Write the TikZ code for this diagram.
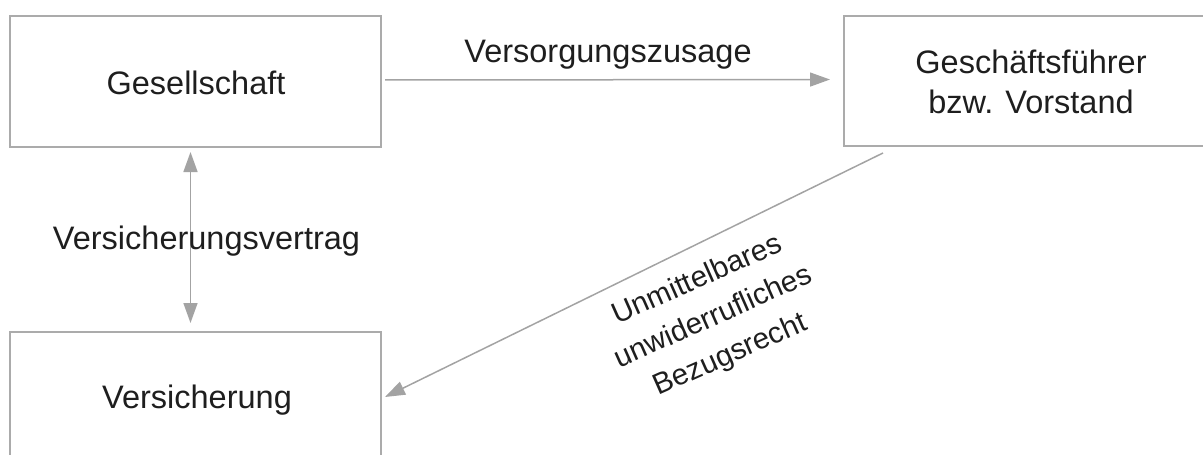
\documentclass[tikz,border=0pt]{standalone}
\usepackage{fontspec}
\setmainfont{Liberation Sans}
\usetikzlibrary{arrows.meta}
\definecolor{boxgray}{HTML}{ABABAB}
\definecolor{arrgray}{HTML}{A3A3A3}
\definecolor{txt}{HTML}{1E1E1E}
\begin{document}
\begin{tikzpicture}[x=1pt,y=-1pt,
  box/.style={draw=boxgray, line width=1.5pt, minimum width=371pt, inner sep=0pt, outer sep=0pt},
  lbl/.style={anchor=base, text=txt, inner sep=0pt, font=\fontsize{32.5}{40}\selectfont},
  arr/.style={draw=arrgray, line width=1.5pt, -{Triangle[length=20pt,width=14pt]}},
  darr/.style={draw=arrgray, line width=1.5pt, {Triangle[length=20pt,width=14pt]}-{Triangle[length=20pt,width=14pt]}}
]
\useasboundingbox (0,0) rectangle (1203,455);
\clip (0,0) rectangle (1203,455);
% boxes
\node[box, minimum height=131pt] (g) at (195.5,81.5) {};
\node[box, minimum width=374pt, minimum height=130pt] (gf) at (1031,81) {};
\node[box, minimum height=127pt] (v) at (195.5,395.5) {};
% texts
\node[lbl] (tg) at (196,94) {Gesellschaft};
\node[lbl] (tgf1) at (1031,73) {Geschäftsführer};
\node[lbl] (tgf2) at (1031,113) {bzw. Vorstand};
\node[lbl] (tv) at (197,408) {Versicherung};
% connectors
\draw[arr, shorten <=4pt, shorten >=14pt] ([yshift=1.5pt]g.east) -- ([yshift=1.5pt]gf.west);
\node[lbl] (tvz) at (608,62) {Versorgungszusage};
\draw[darr, shorten <=5pt, shorten >=9pt] ([xshift=-5pt]g.south) -- ([xshift=-5pt]v.north);
\node[lbl] (tvv) at (206.5,249) {Versicherungsvertrag};
\draw[arr] ([xshift=39pt,yshift=-7pt]gf.south west) -- ([xshift=4pt,yshift=-1.5pt]v.east);
\node[text=txt, inner sep=0pt, rotate=24, align=center, font=\fontsize{29.5}{41}\selectfont] (tb) at (714,318) {Unmittelbares\\unwiderrufliches\\Bezugsrecht};
\end{tikzpicture}
\end{document}
